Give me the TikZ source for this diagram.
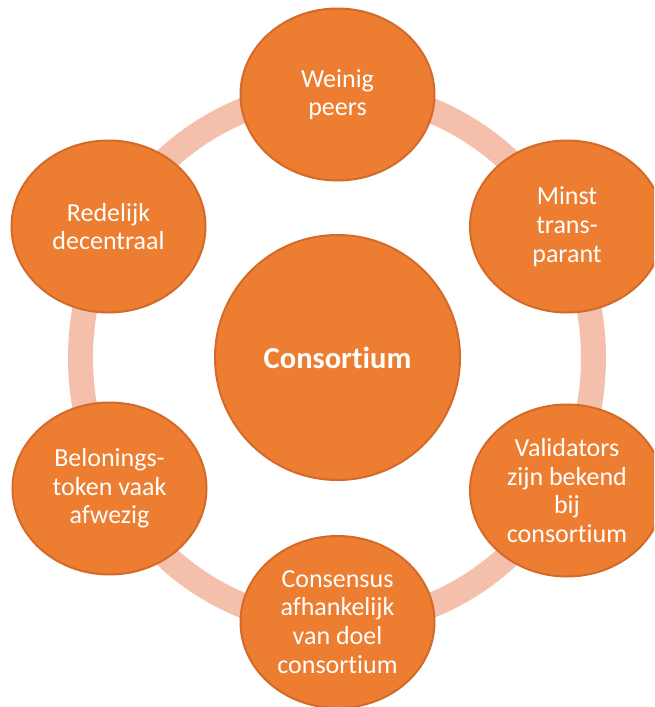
\documentclass[tikz,border=0pt]{standalone}
\usepackage{fontspec}
\setmainfont{Carlito}[Ligatures=NoCommon]
\usetikzlibrary{shapes.geometric}
\definecolor{orfill}{HTML}{ED7D31}
\definecolor{ordraw}{HTML}{D36A2A}
\definecolor{ringc}{HTML}{F4C0AB}
\tikzset{
  outer/.style={ellipse, fill=orfill, draw=ordraw, line width=2pt,
    minimum width=194pt, minimum height=172pt, inner sep=0pt,
    align=center, text=white, font=\fontsize{26}{28.7}\selectfont},
  hub/.style={circle, fill=orfill, draw=ordraw, line width=2pt,
    minimum size=245pt, inner sep=0pt, text=white,
    font=\fontsize{30.5}{34}\selectfont\bfseries},
  ringline/.style={draw=ringc, line width=25pt}
}
\begin{document}
\begin{tikzpicture}[x=1pt,y=-1pt]
\useasboundingbox (0,0) rectangle (654,707);
\clip (0,0) rectangle (654,707);
\coordinate (ctr) at (337,358);
\draw[ringline] (ctr) ellipse [x radius=256.5pt, y radius=266pt];
\node[hub] (hub) at (337.5,357.5) {Consortium};
\node[outer] (n1) at (337.5,94.5) {Weinig\\peers};
\node[outer] (n2) at (567,226.5) {Minst\\trans-\\parant};
\node[outer] (n3) at (567,490.5) {Validators\\zijn bekend\\bij\\consortium};
\node[outer] (n4) at (337.5,622) {Consensus\\afhankelijk\\van doel\\consortium};
\node[outer] (n5) at (109.5,488.5) {Belonings-\\token vaak\\afwezig};
\node[outer] (n6) at (108.5,226.5) {Redelijk\\decentraal};
\end{tikzpicture}
\end{document}
